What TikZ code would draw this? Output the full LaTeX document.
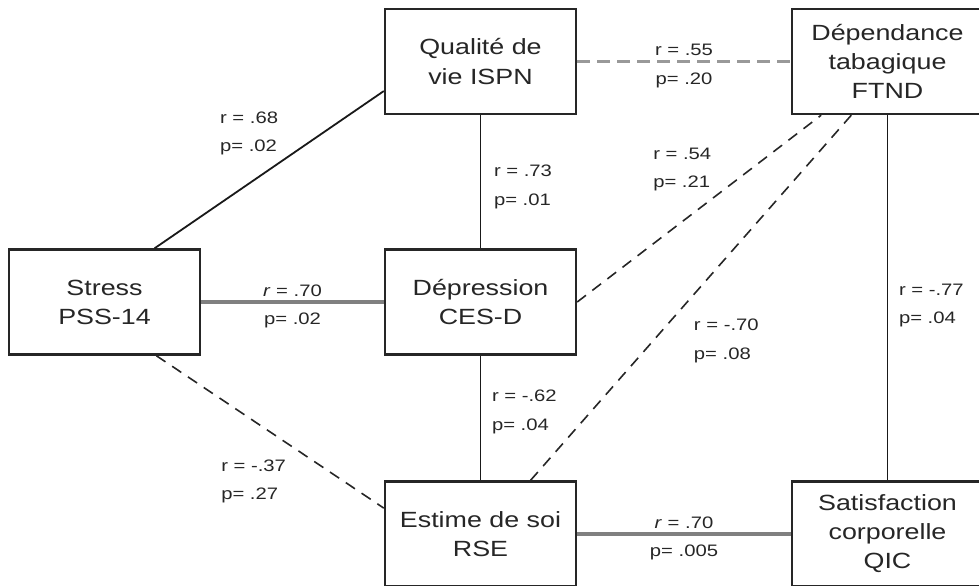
\documentclass[tikz,border=0pt]{standalone}
\usepackage{fontspec}
\newfontfamily\diagfont{Liberation Sans}[FakeStretch=1.22]
\usetikzlibrary{positioning}
\tikzstyle{var}=[draw=black!85, line width=1.2pt, fill=white, minimum width=95.5pt,
		minimum height=52.5pt, inner sep=0, align=center, text=black!85,
		font=\diagfont\fontsize{11}{14.5}\selectfont]
\tikzstyle{coef}=[inner sep=2pt, align=left, text=black!85,
		font=\diagfont\fontsize{8.3}{14.2}\selectfont]
\tikzstyle{lien}=[draw=black!90, line width=0.9pt]
\tikzstyle{lienfort}=[draw=black!50, line width=2.2pt]
\tikzstyle{pointille}=[draw=black!85, line width=0.8pt, dash pattern=on 5.5pt off 4pt]
\tikzstyle{pointfort}=[draw=black!40, line width=1.6pt, dash pattern=on 6.5pt off 3.5pt]

\begin{document}
\begin{tikzpicture}[x=0.5pt, y=-0.5pt]
        \useasboundingbox (0,0) rectangle (979,585);
        % variables
        \node[var] (qual) at (480.5,61.5) {Qualité de\\vie ISPN};
        \node[var] (dep) at (887.5,61.5) {Dépendance\\tabagique\\FTND};
        \node[var] (stress) at (104.5,302) {Stress\\PSS-14};
        \node[var] (depr) at (480.5,302) {Dépression\\CES-D};
        \node[var] (estime) at (480.5,534) {Estime de soi\\RSE};
        \node[var] (satis) at (887.5,534) {Satisfaction\\corporelle\\QIC};
        % correlations
        \draw[lien] (stress.47) -- node[coef, pos=0.56, anchor=south east] {r = .68\\p= .02} (qual.197);
        \draw[pointfort] (qual) -- node[coef, align=center, yshift=-2.2pt] {r = .55\\p= .20} (dep);
        \draw[lien] (qual) -- node[coef, anchor=west, xshift=4.3pt, yshift=-2.5pt] {r = .73\\p= .01} (depr);
        \draw[lienfort] (stress) -- node[coef, align=center, yshift=-2.2pt] {\textit{r} = .70\\p= .02} (depr);
        \draw[pointille] (depr.east) -- node[coef, pos=0.569, anchor=south east] {r = .54\\p= .21} (dep.219);
        \draw[pointille] (estime.47) -- node[coef, pos=0.454, anchor=north west, xshift=6.5pt] {r = -.70\\p= .08} (dep.236);
        \draw[lien] (depr) -- node[coef, anchor=west, xshift=3.3pt, yshift=3pt] {r = -.62\\p= .04} (estime);
        \draw[pointille] (stress.314) -- node[coef, pos=0.65, anchor=north east, xshift=-6.7pt] {r = -.37\\p= .27} (estime.165);
        \draw[lienfort] (estime) -- node[coef, align=center, yshift=-2.2pt] {\textit{r} = .70\\p= .005} (satis);
        \draw[lien] (dep) -- node[coef, anchor=west, xshift=3.3pt, yshift=-4pt] {r = -.77\\p= .04} (satis);
\end{tikzpicture}
\end{document}
